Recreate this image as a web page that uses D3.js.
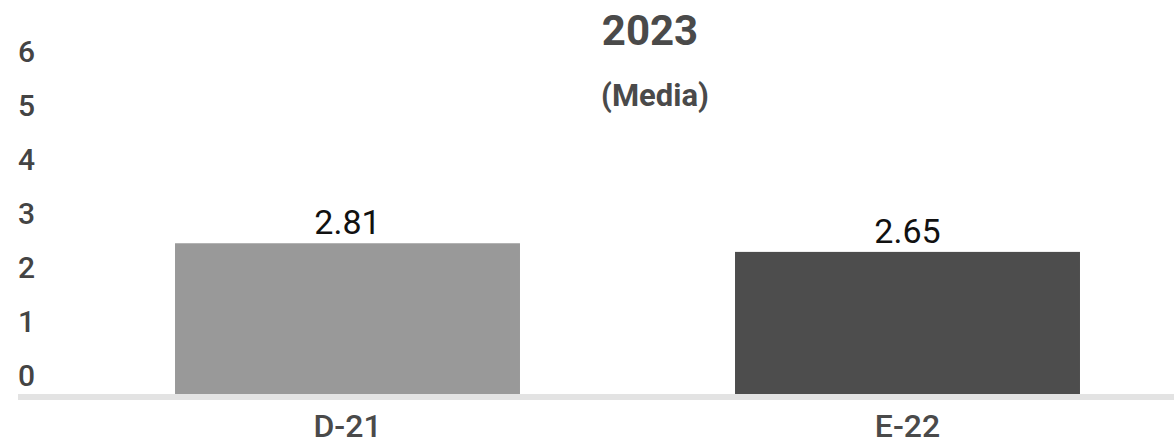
<html>
  <head>
    <meta charset="utf-8">
    <title>2023 (Media)</title>
    <style>
      body { margin: 0; background: #fff; }
      text { font-family: Roboto, "Noto Sans", sans-serif; }
    </style>
  </head>
  <body>
    <script src="https://cdn.jsdelivr.net/npm/d3@7/dist/d3.min.js"></script>
    <script>
      var width = 1174, height = 444;

      var categories = ["D-21", "E-22"];
      var values = [2.81, 2.65];
      var barColors = ["#999999", "#4d4d4d"];
      var yTicks = [0, 1, 2, 3, 4, 5, 6];
      var title = "2023";
      var subtitle = "(Media)";

      var svg = d3.select("body")
                  .append("svg")
                  .attr("width", width)
                  .attr("height", height);

      var x = d3.scaleBand()
                .domain(categories)
                .range([67.5, 1187.5])
                .paddingInner(0.384)
                .paddingOuter(0.192);

      var y = d3.scaleLinear()
                .domain([0, 6])
                .range([395, 71]);

      // y tick labels (no line), sitting a bit above their value
      svg.selectAll(".ylab")
         .data(yTicks)
         .enter()
         .append("text")
         .attr("class", "ylab")
         .attr("x", 18)
         .attr("y", d => y(d) - 9.5)
         .attr("fill", "#444")
         .attr("font-size", 30)
         .attr("font-weight", 500)
         .text(d => d);

      // bars
      svg.selectAll(".bar")
         .data(values)
         .enter()
         .append("rect")
         .attr("class", "bar")
         .attr("x", (d, i) => x(categories[i]))
         .attr("y", d => y(d))
         .attr("width", x.bandwidth())
         .attr("height", d => y(0) - y(d))
         .attr("fill", (d, i) => barColors[i]);

      // baseline
      svg.append("rect")
         .attr("x", 18)
         .attr("y", y(0) - 1)
         .attr("width", width - 18)
         .attr("height", 6)
         .attr("fill", "#e3e3e3");

      // value labels
      svg.selectAll(".val")
         .data(values)
         .enter()
         .append("text")
         .attr("class", "val")
         .attr("x", (d, i) => x(categories[i]) + x.bandwidth() / 2)
         .attr("y", d => y(d) - 9)
         .attr("text-anchor", "middle")
         .attr("fill", "#111")
         .attr("font-size", 34)
         .text(d => d.toFixed(2));

      // x axis labels
      var xAxis = d3.axisBottom(x).tickSize(0).tickPadding(0);
      var gx = svg.append("g")
                  .attr("transform", "translate(0," + 412 + ")")
                  .call(xAxis);
      gx.select(".domain").remove();
      gx.selectAll("text")
        .attr("dy", 0)
        .attr("y", 25)
        .attr("fill", "#4a4a4a")
        .attr("font-size", 32)
        .attr("font-weight", 500)
        .attr("font-family", "Roboto, sans-serif");

      // titles
      svg.append("text")
         .attr("x", 650)
         .attr("y", 45)
         .attr("text-anchor", "middle")
         .attr("fill", "#4a4a4a")
         .attr("font-size", 42)
         .attr("font-weight", "bold")
         .text(title);

      svg.append("text")
         .attr("x", 655)
         .attr("y", 106)
         .attr("text-anchor", "middle")
         .attr("fill", "#4a4a4a")
         .attr("font-size", 31)
         .attr("font-weight", "bold")
         .text(subtitle);
    </script>
  </body>
</html>
